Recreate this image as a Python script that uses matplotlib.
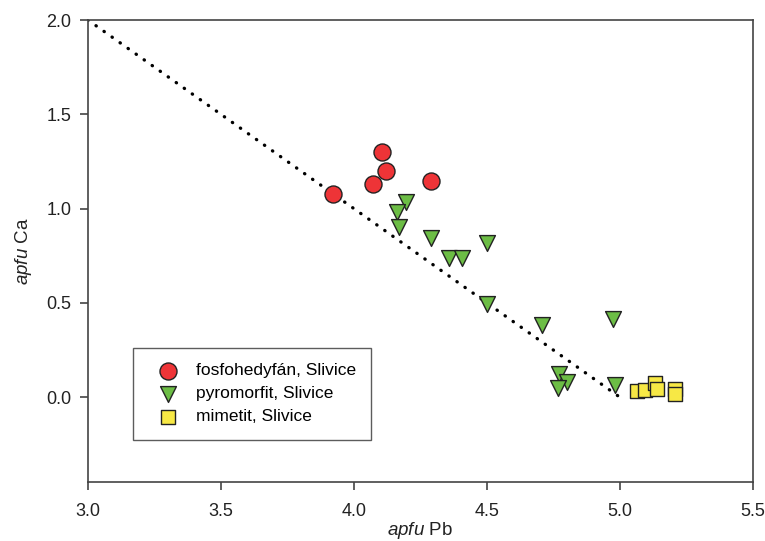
import matplotlib
matplotlib.use('Agg')
import matplotlib.pyplot as plt

plt.rcParams['font.family'] = ['Liberation Sans', 'DejaVu Sans']
plt.rcParams['mathtext.fontset'] = 'custom'
plt.rcParams['mathtext.rm'] = 'Liberation Sans'
plt.rcParams['mathtext.it'] = 'Liberation Sans:italic'

# fosfohedyfán
fos_pb = [3.92, 4.07, 4.105, 4.12, 4.29]
fos_ca = [1.08, 1.13, 1.30, 1.20, 1.145]

# pyromorfit
pyr_pb = [4.195, 4.162, 4.169, 4.289, 4.50, 4.357, 4.406, 4.50, 4.707, 4.974,
          4.771, 4.80, 4.767, 4.981]
pyr_ca = [1.034, 0.981, 0.902, 0.843, 0.817, 0.737, 0.737, 0.493, 0.382, 0.414,
          0.122, 0.08, 0.048, 0.064]

# mimetit
mim_pb = [5.064, 5.094, 5.132, 5.139, 5.207, 5.207]
mim_ca = [0.032, 0.037, 0.074, 0.042, 0.042, 0.016]

# ideální linie
line_pb = [3.0, 5.0]
line_ca = [2.0, 0.0]

fig = plt.figure(figsize=(7.65, 5.41), dpi=100)
ax = fig.add_axes([0.115, 0.109, 0.869, 0.854])

ax.plot(line_pb, line_ca, color='black', linestyle=(0, (0.1, 2.85)),
        linewidth=2.4, dash_capstyle='round', zorder=1)

ax.scatter(fos_pb, fos_ca, s=150, marker='o', facecolor='#ee3437',
           edgecolor='#222222', linewidth=1.0, label='fosfohedyfán, Slivice', zorder=3)
ax.scatter(pyr_pb, pyr_ca, s=130, marker='v', facecolor='#6cbd45',
           edgecolor='#222222', linewidth=1.0, label='pyromorfit, Slivice', zorder=3)
ax.scatter(mim_pb, mim_ca, s=110, marker='s', facecolor='#f7e845',
           edgecolor='#222222', linewidth=1.0, label='mimetit, Slivice', zorder=3)

ax.set_xlim(3.0, 5.5)
ax.set_ylim(-0.45, 2.0)
ax.set_xticks([3.0, 3.5, 4.0, 4.5, 5.0, 5.5])
ax.set_yticks([0.0, 0.5, 1.0, 1.5, 2.0])
ax.xaxis.set_major_formatter(matplotlib.ticker.FormatStrFormatter('%.1f'))
ax.yaxis.set_major_formatter(matplotlib.ticker.FormatStrFormatter('%.1f'))

for sp in ax.spines.values():
    sp.set_color('#444444')
    sp.set_linewidth(1.2)
ax.tick_params(direction='out', length=6, width=1.2, color='#444444',
               labelsize=13, labelcolor='#222222', pad=6)
ax.tick_params(axis='x', pad=9)

ax.set_xlabel(r'$\it{apfu}$ Pb', fontsize=13.5, color='#222222', labelpad=0)
ax.set_ylabel(r'$\it{apfu}$ Ca', fontsize=13.5, color='#222222', labelpad=9)

leg = ax.legend(loc='lower left', bbox_to_anchor=(0.068, 0.091), fontsize=12.5,
                frameon=True, fancybox=False, edgecolor='#333333',
                borderpad=0.9, handletextpad=0.5, labelspacing=0.45,
                borderaxespad=0, handlelength=2.2)
leg.get_frame().set_linewidth(1.0)

fig.savefig('out.png', dpi=100)
